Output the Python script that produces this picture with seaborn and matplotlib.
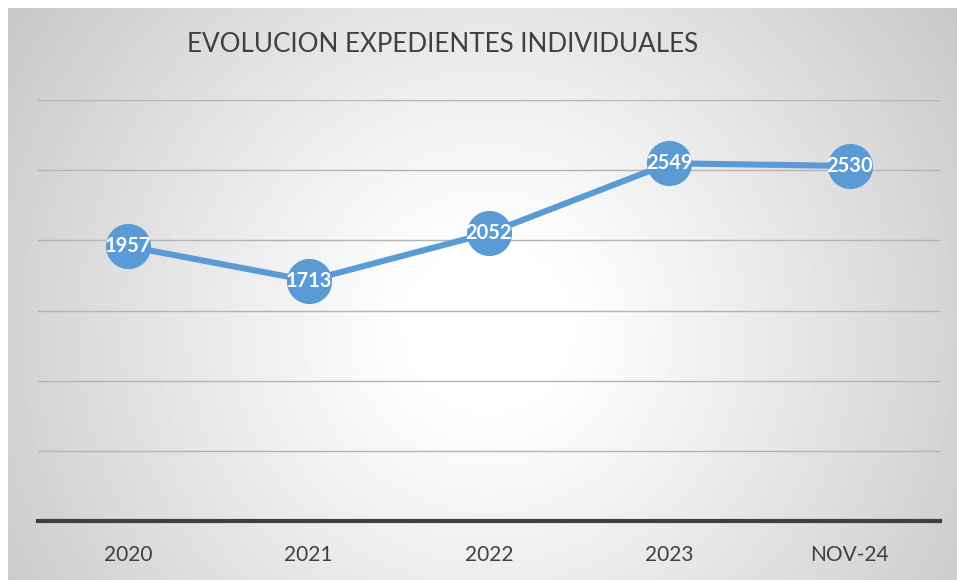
import matplotlib
matplotlib.use("Agg")
import matplotlib.pyplot as plt
import seaborn as sns
import numpy as np
import pandas as pd

# data
categories = ["2020", "2021", "2022", "2023", "NOV-24"]
expedientes = [1957, 1713, 2052, 2549, 2530]
title = "EVOLUCION EXPEDIENTES INDIVIDUALES"

df = pd.DataFrame({"periodo": categories, "expedientes": expedientes})
df["pos"] = range(len(df))

sns.set_theme(style="white")
plt.rcParams["font.family"] = ["Lato", "DejaVu Sans"]

W, H = 957, 580
fig = plt.figure(figsize=(W / 100, H / 100), dpi=100)
fig.patch.set_facecolor("white")

# radial grey-to-white background of the chart box
bg = fig.add_axes([8 / W, 0, (W - 8) / W, (H - 8) / H], zorder=-2)
yy, xx = np.mgrid[0:572, 0:949]
cx, cy = 480, 320
r = np.sqrt((xx - cx) ** 2 + (yy - cy) ** 2)
r = r / r.max()
t = np.clip((r - 0.12) / 0.88, 0, 1)
shade = 1 - 0.22 * t ** 1.1
bg.imshow(shade, cmap="gray", vmin=0, vmax=1, aspect="auto", interpolation="bilinear")
bg.set_axis_off()

ax = fig.add_axes([38 / W, (H - 521) / H, (940 - 38) / W, (521 - 100) / H])
ax.patch.set_alpha(0)

sns.lineplot(
    data=df,
    x="pos",
    y="expedientes",
    ax=ax,
    color="#5B9BD5",
    linewidth=4.4,
    marker="o",
    markersize=32.5,
    markeredgewidth=0,
    zorder=3,
)

for _, row in df.iterrows():
    ax.text(row["pos"], row["expedientes"], str(row["expedientes"]),
            ha="center", va="center", color="white", fontsize=14.5,
            fontweight="bold", zorder=4)

ax.set_xlim(-0.5, len(categories) - 0.5)
ax.set_ylim(0, 3000)
ax.set_yticks(np.arange(500, 3001, 500))
ax.yaxis.grid(True, color="#b4b4b4", linewidth=1)
ax.set_axisbelow(True)
ax.tick_params(axis="y", left=False, labelleft=False)
ax.set_xticks(df["pos"])
ax.set_xticklabels(categories, fontsize=15, color="#404040")
ax.tick_params(axis="x", bottom=False, pad=11)
for side in ["top", "left", "right"]:
    ax.spines[side].set_visible(False)
ax.spines["bottom"].set_color("#404040")
ax.spines["bottom"].set_linewidth(3)
ax.set_xlabel("")
ax.set_ylabel("")

fig.text(187 / W, 1 - 45 / H, title, ha="left", va="center",
         fontsize=18.7, color="#404040")

fig.savefig("out.png", dpi=100)
